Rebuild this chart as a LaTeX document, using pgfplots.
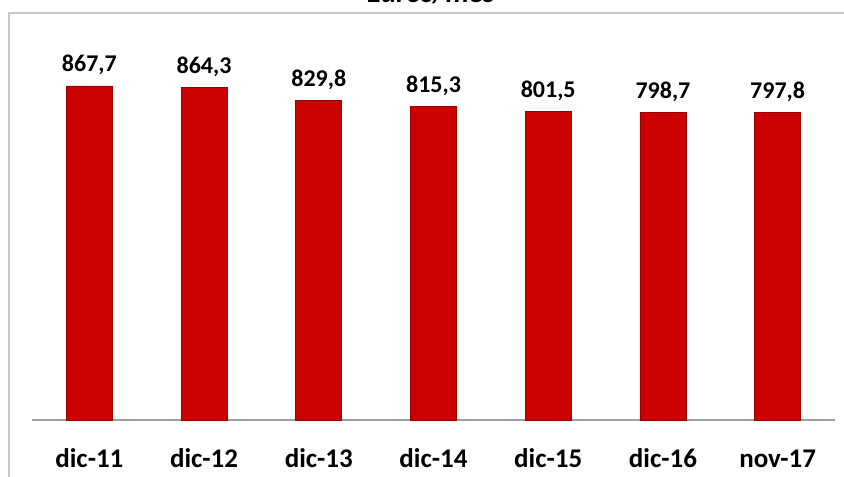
\documentclass[border=0pt]{standalone}
\usepackage{pgfplots}
\pgfplotsset{compat=1.18}
\usepackage{fontspec}
\setmainfont{Carlito}
\definecolor{barred}{RGB}{204,0,0}
\definecolor{baredge}{RGB}{150,0,0}
\definecolor{framegray}{RGB}{200,200,200}
\definecolor{axisgray}{RGB}{160,160,160}
\begin{document}
\begin{tikzpicture}
\useasboundingbox (0,0) rectangle (844bp,477bp);
\clip (0,0) rectangle (844bp,477bp);
\draw[framegray, line width=2bp] (9bp,-2bp) -- (9bp,463.5bp) -- (850bp,463.5bp);
\node[anchor=base, inner sep=0, font=\fontsize{29bp}{32bp}\selectfont\bfseries\itshape] at (431bp,474.5bp) {Euros/mes};
\begin{axis}[
  at={(32bp,57bp)}, anchor=south west,
  scale only axis, width=803bp, height=385bp,
  xmin=-0.5, xmax=6.5, ymin=0, ymax=1000,
  ybar, bar width=46bp,
  axis y line=none,
  axis x line*=bottom,
  x axis line style={axisgray, line width=1.2bp, -},
  xtick=data,
  xticklabels={dic-11,dic-12,dic-13,dic-14,dic-15,dic-16,nov-17},
  xtick style={draw=none},
  xticklabel style={font=\fontsize{27bp}{30bp}\selectfont\bfseries, inner sep=0, anchor=base, yshift=-43bp},
  nodes near coords,
  nodes near coords style={font=\fontsize{24bp}{28bp}\selectfont\bfseries, inner sep=0, anchor=base, yshift=14bp,
    /pgf/number format/.cd, use comma, fixed, fixed zerofill, precision=1, assume math mode=true},
  /pgf/number format/assume math mode=true,
  clip=false,
]
\addplot[fill=barred, draw=baredge, line width=0.8bp] coordinates {
  (0,867.7) (1,864.3) (2,829.8) (3,815.3) (4,801.5) (5,798.7) (6,797.8)
};
\end{axis}
\end{tikzpicture}
\end{document}
